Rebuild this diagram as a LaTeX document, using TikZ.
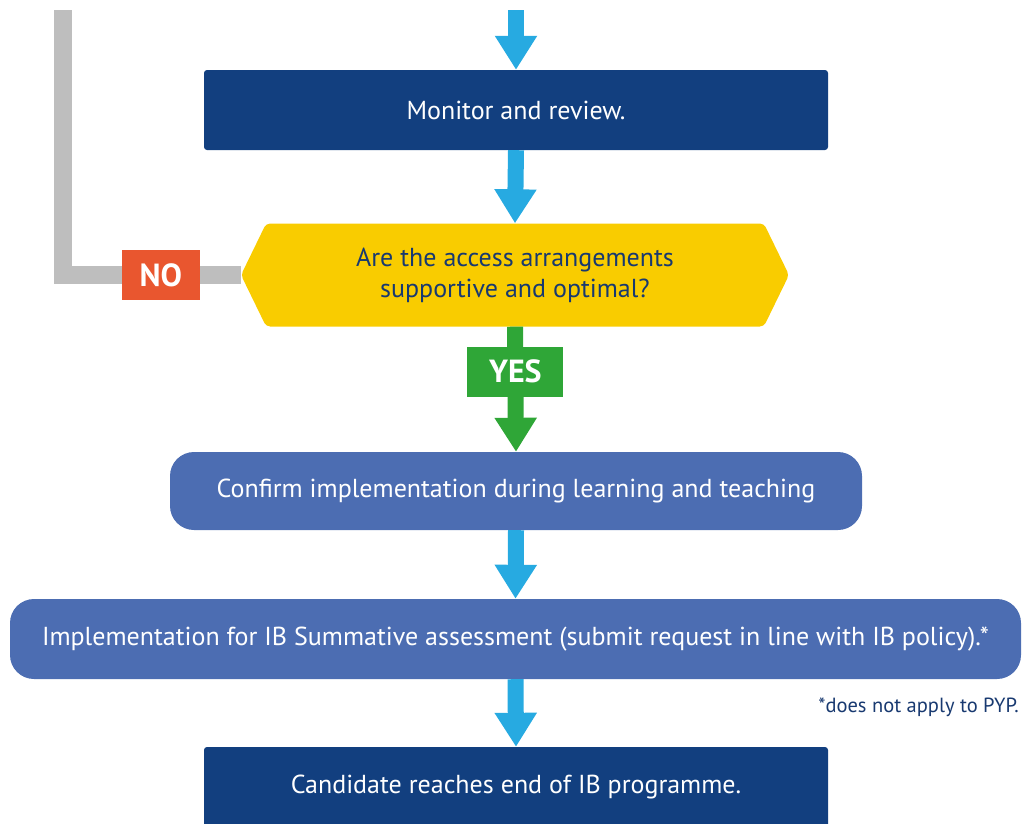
\documentclass[tikz,border=0pt]{standalone}
\usepackage{fontspec}
\setmainfont{PT Sans}
\usepackage{xcolor}
\definecolor{ColNavy}{RGB}{18,63,127}
\definecolor{ColBlue}{RGB}{76,109,178}
\definecolor{ColCyan}{RGB}{39,170,225}
\definecolor{ColYellow}{RGB}{249,204,0}
\definecolor{ColGreen}{RGB}{47,166,55}
\definecolor{ColOrange}{RGB}{233,86,47}
\definecolor{ColGrey}{RGB}{190,190,190}
\definecolor{ColText}{RGB}{24,57,112}
\usepackage{tikz}
\usetikzlibrary{shapes.symbols}
\usetikzlibrary{arrows.meta}
\tikzstyle{StepBox}=[fill=ColNavy,text=white,inner sep=0pt,align=center,
    rounded corners=3pt,font=\fontsize{26}{31}\selectfont]
\tikzstyle{RoundBox}=[StepBox,fill=ColBlue,rounded corners=24pt]
\tikzstyle{Question}=[shape=signal,signal to=east and west,
    signal pointer angle=128,fill=ColYellow,text=ColText,inner sep=0pt,
    align=center,rounded corners=4pt,font=\fontsize{26}{31}\selectfont]
\tikzstyle{Tag}=[text=white,inner sep=0pt,minimum height=50pt,
    font=\fontsize{32}{32}\selectfont\bfseries]
\tikzstyle{Flow}=[ColCyan,line width=16pt,-{Triangle[width=40pt,length=34pt]}]
\tikzstyle{Loop}=[ColGrey,line width=18pt]

\begin{document}
\begin{tikzpicture}[x=1pt,y=-1pt]
    \useasboundingbox(0,0)rectangle(1024,823);
    \coordinate(In)at(516,10);
    \coordinate(Back)at(63,10);
    \node(Monitor)[StepBox,minimum width=624pt,minimum height=80pt]
        at(516,110){Monitor and review.};
    \node(Check)[Question,minimum width=548pt,minimum height=103pt]
        at(515,275){Are the access arrangements\\supportive and optimal?};
    \node(Confirm)[RoundBox,minimum width=692pt,minimum height=78pt]
        at(516,491){Confirm implementation during learning and teaching};
    \node(Summative)[RoundBox,minimum width=1011pt,minimum height=80pt]
        at(515.5,639){Implementation for IB Summative assessment
        (submit request in line with IB policy).*};
    \node(Note)[anchor=east,text=ColText,inner sep=0pt,
        font=\fontsize{20.5}{20.5}\selectfont]
        at(1019,707){*does not apply to PYP.};
    \node(End)[StepBox,minimum width=624pt,minimum height=80pt]
        at(516,787){Candidate reaches end of IB programme.};
    % main line
    \draw[Flow](In)--(Monitor.north);
    \draw[Flow](Monitor.south)--(Check.north);
    \draw[Flow,ColGreen](Check.south)--(Confirm.north)
        node[pos=0.36,Tag,fill=ColGreen,minimum width=96pt]{YES};
    \draw[Flow](Confirm.south)--(Summative.north);
    \draw[Flow](Summative.south)--(End.north);
    % way back up when the answer is no
    \draw[Loop](Back)|-(Check.west)
        node[pos=0.775,Tag,fill=ColOrange,minimum width=78pt]{NO};
\end{tikzpicture}
\end{document}
